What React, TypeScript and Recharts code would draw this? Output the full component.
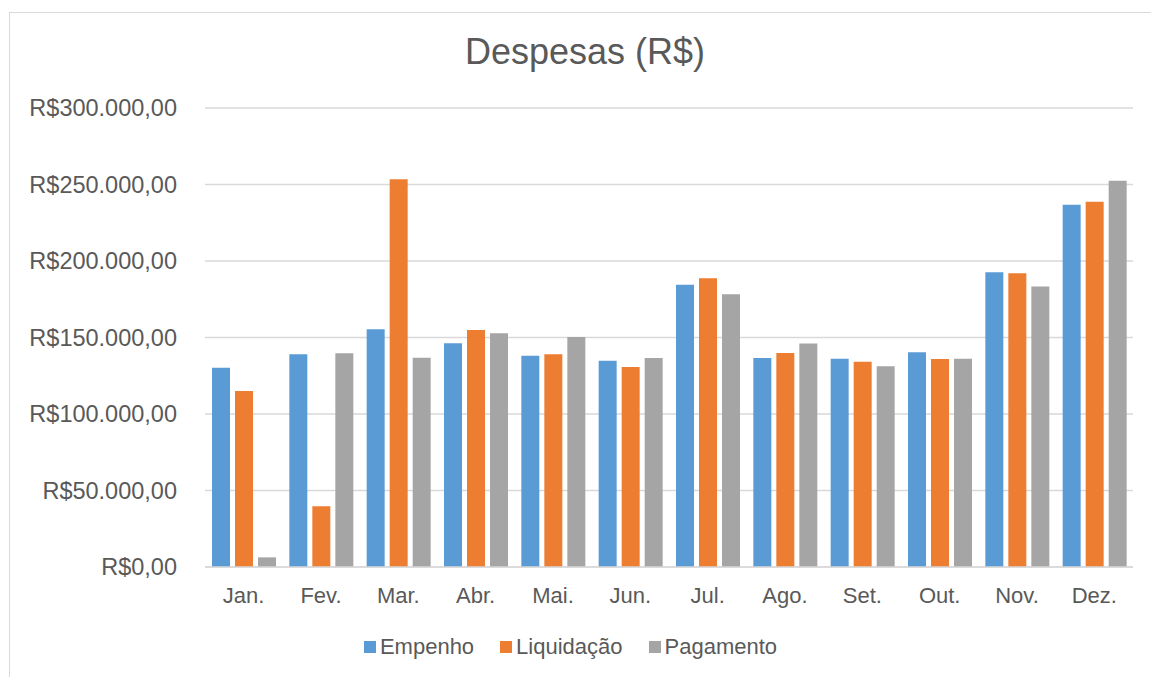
import { BarChart, Bar, XAxis, YAxis, CartesianGrid, Legend } from 'recharts';

const months = ['Jan.', 'Fev.', 'Mar.', 'Abr.', 'Mai.', 'Jun.', 'Jul.', 'Ago.', 'Set.', 'Out.', 'Nov.', 'Dez.'];
const empenho = [130200, 139000, 155400, 146200, 138100, 134800, 184400, 136600, 136100, 140300, 192700, 236700];
const liquidacao = [115000, 39700, 253500, 154900, 139000, 130700, 188800, 139900, 134200, 135900, 192000, 238700];
const pagamento = [6300, 139700, 136800, 152700, 150300, 136600, 178300, 146000, 131200, 136100, 183300, 252400];
const yTicks = [0, 50000, 100000, 150000, 200000, 250000, 300000];

const series = [
    { key: 'empenho', name: 'Empenho', color: '#5B9BD5' },
    { key: 'liquidacao', name: 'Liquidação', color: '#ED7D31' },
    { key: 'pagamento', name: 'Pagamento', color: '#A5A5A5' },
];

const data = months.map((m, i) => ({
    month: m,
    empenho: empenho[i],
    liquidacao: liquidacao[i],
    pagamento: pagamento[i],
}));

const FONT = '"Liberation Sans", Arial, sans-serif';
const TEXT = '#595959';

// R$300.000,00 style, no space after the symbol
function brl(v: number) {
    const int = Math.floor(v).toString().replace(/\B(?=(\d{3})+(?!\d))/g, '.');
    return `R$${int},00`;
}

function LegendBox() {
    return (
        <div style={{ display: 'flex', justifyContent: 'center', alignItems: 'center', height: 30, fontFamily: FONT, fontSize: 22, color: TEXT }}>
            {series.map((s) => (
                <div key={s.key} style={{ display: 'flex', alignItems: 'center', margin: '0 13px' }}>
                    <span style={{ width: 12, height: 12, background: s.color, marginRight: 4, display: 'inline-block' }} />
                    <span>{s.name}</span>
                </div>
            ))}
        </div>
    );
}

export default function App() {
    return (
        <div style={{ position: 'absolute', left: 0, top: 0, width: 1151, height: 677, background: '#fff', overflow: 'hidden', fontFamily: FONT }}>
            <div style={{ position: 'absolute', left: 9, top: 12, width: 1170, height: 700, border: '1px solid #d9d9d9', boxSizing: 'border-box' }} />
            <div style={{ position: 'absolute', left: 0, top: 34, width: 1170, textAlign: 'center', fontSize: 36, lineHeight: '36px', color: TEXT }}>
                Despesas (R$)
            </div>
            <div style={{ position: 'absolute', left: 0, top: 0 }}>
                <BarChart
                    width={1151}
                    height={677}
                    data={data}
                    margin={{ top: 108, right: 18, left: 0, bottom: 40 }}
                    barSize={18}
                    barGap={5}
                >
                    <CartesianGrid vertical={false} stroke="#d9d9d9" strokeWidth={1.5} />
                    <XAxis
                        dataKey="month"
                        height={40}
                        axisLine={{ stroke: '#d9d9d9', strokeWidth: 1.5 }}
                        tickLine={false}
                        tickSize={0}
                        tickMargin={20}
                        tick={{ fill: TEXT, fontSize: 22, fontFamily: FONT }}
                        interval={0}
                    />
                    <YAxis
                        width={205}
                        domain={[0, 300000]}
                        ticks={yTicks}
                        tickFormatter={brl}
                        axisLine={false}
                        tickLine={false}
                        tickSize={0}
                        tickMargin={28}
                        tick={{ fill: TEXT, fontSize: 23.5, fontFamily: FONT }}
                    />
                    <Legend
                        verticalAlign="bottom"
                        height={30}
                        content={<LegendBox />}
                        wrapperStyle={{ top: 632, left: 0, width: 1141 }}
                    />
                    {series.map((s) => (
                        <Bar key={s.key} dataKey={s.key} name={s.name} fill={s.color} isAnimationActive={false} />
                    ))}
                </BarChart>
            </div>
        </div>
    );
}
